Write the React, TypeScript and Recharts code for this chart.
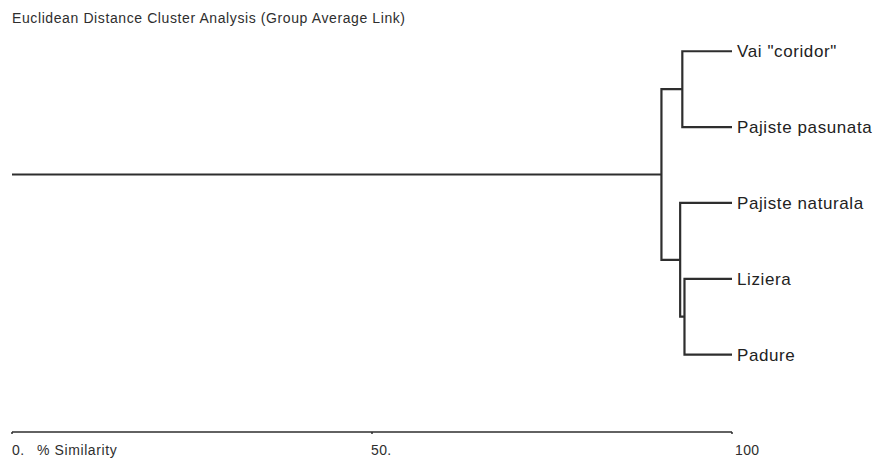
import React from 'react';
import { ComposedChart, Scatter, XAxis, YAxis } from 'recharts';

// ---- Data ----
const title = 'Euclidean Distance Cluster Analysis (Group Average Link)';
const axisTitle = '% Similarity';
const leaves = ['Vai "coridor"', 'Pajiste pasunata', 'Pajiste naturala', 'Liziera', 'Padure'];
const mergeNames = ['A', 'B', 'C', 'ROOT'];
const mergeChild1 = ['Vai "coridor"', 'Liziera', 'Pajiste naturala', 'A'];
const mergeChild2 = ['Pajiste pasunata', 'Padure', 'B', 'C'];
const mergeSimilarity = [93.1, 93.4, 92.8, 90.2];
const xTicks = [0, 50, 100];
const xTickLabels = ['0.', '50.', '100'];

// ---- Build dendrogram segments from the data ----
type Node = { x: number; y: number };
const nodes: Record<string, Node> = {};
leaves.forEach((name, i) => {
  nodes[name] = { x: 100, y: i };
});
mergeNames.forEach((name, i) => {
  const a = nodes[mergeChild1[i]];
  const b = nodes[mergeChild2[i]];
  nodes[name] = { x: mergeSimilarity[i], y: (a.y + b.y) / 2 };
});

const segments: { x: number; y: number }[][] = mergeNames.map((name, i) => {
  const a = nodes[mergeChild1[i]];
  const b = nodes[mergeChild2[i]];
  const s = nodes[name].x;
  return [
    { x: a.x, y: a.y },
    { x: s, y: a.y },
    { x: s, y: b.y },
    { x: b.x, y: b.y },
  ];
});
const root = nodes[mergeNames[mergeNames.length - 1]];
segments.push([
  { x: 0, y: root.y },
  { x: root.x, y: root.y },
]);

const INK = '#2e2e2e';
const FONT = 'Arial, "Liberation Sans", Helvetica, sans-serif';

const NoShape = () => <g />;

const XTick = (props: any) => {
  const { x, y, payload } = props;
  const idx = xTicks.indexOf(payload.value);
  const label = xTickLabels[idx] ?? String(payload.value);
  const dx = payload.value === 100 ? 3 : payload.value === 50 ? -1 : 0;
  return (
    <g>
      <text
        x={x + dx}
        y={y + 19}
        textAnchor="start"
        fontSize={14}
        letterSpacing={0.4}
        fill={INK}
        fontFamily={FONT}
      >
        {label}
      </text>
      {payload.value === 0 && (
        <text x={x + 25} y={y + 19} textAnchor="start" fontSize={14} letterSpacing={0.6} fill={INK} fontFamily={FONT}>
          {axisTitle}
        </text>
      )}
    </g>
  );
};

const YTick = (props: any) => {
  const { y, payload } = props;
  const name = leaves[payload.value];
  if (name === undefined) return <g />;
  return (
    <text
      x={737}
      y={y}
      dy={6}
      textAnchor="start"
      fontSize={17}
      letterSpacing={0.6}
      fill="#222"
      fontFamily={FONT}
    >
      {name}
    </text>
  );
};

export default function App() {
  return (
    <div style={{ position: 'absolute', left: 0, top: 0, width: 876, height: 458, background: '#fff' }}>
      <div
        style={{
          position: 'absolute',
          left: 12,
          top: 10,
          fontFamily: FONT,
          fontSize: 14,
          letterSpacing: 0.6,
          color: INK,
          whiteSpace: 'nowrap',
          lineHeight: '16px',
        }}
      >
        {title}
      </div>
      <ComposedChart width={876} height={458} margin={{ top: 30, right: 0, bottom: 0, left: 12 }}>
        <XAxis
          type="number"
          dataKey="x"
          domain={[0, 100]}
          ticks={xTicks}
          tick={<XTick />}
          tickSize={2}
          tickLine={{ stroke: INK, strokeWidth: 1.5 }}
          axisLine={{ stroke: INK, strokeWidth: 1.5 }}
          height={26}
          interval={0}
          allowDataOverflow
        />
        <YAxis
          yAxisId={0}
          type="number"
          dataKey="y"
          orientation="right"
          reversed
          domain={[-0.28, 5.02]}
          ticks={leaves.map((_, i) => i)}
          tick={<YTick />}
          axisLine={false}
          tickLine={false}
          width={144}
          interval={0}
          allowDataOverflow
        />
        {segments.map((seg, i) => (
          <Scatter
            key={i}
            data={seg}
            line={{ stroke: INK, strokeWidth: 2.2 }}
            lineType="joint"
            shape={<NoShape />}
            isAnimationActive={false}
          />
        ))}
      </ComposedChart>
    </div>
  );
}
